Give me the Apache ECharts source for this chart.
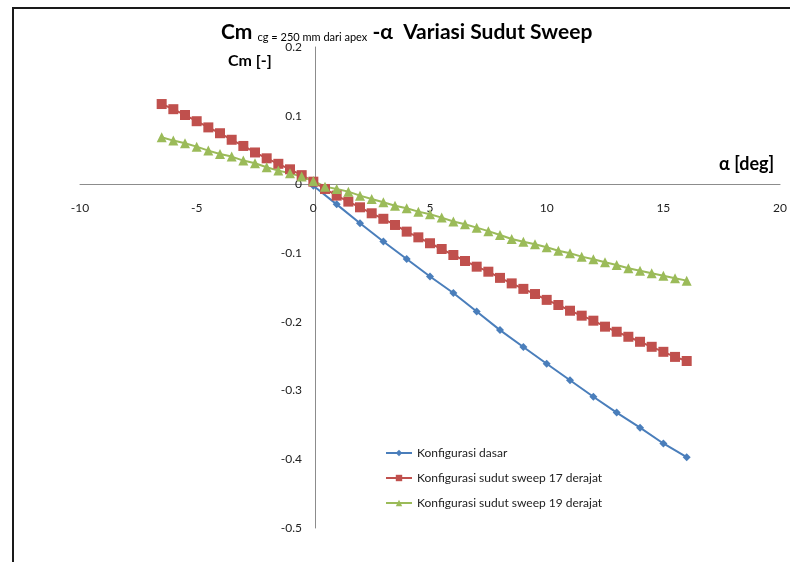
<!DOCTYPE html>
<html><head><meta charset="utf-8">
<script src="https://cdn.jsdelivr.net/npm/echarts@6/dist/echarts.min.js"></script>
<style>html,body{margin:0;padding:0;background:#fff}#c{width:790px;height:562px}</style>
</head><body><div id="c"></div>
<script>
const xTicks = [-10, -5, 0, 5, 10, 15, 20];
const yTicks = [0.2, 0.1, 0, -0.1, -0.2, -0.3, -0.4, -0.5];

const alphaDasar = [0,1,2,3,4,5,6,7,8,9,10,11,12,13,14,15,16];
const cmDasar = [-0.002,-0.029,-0.0565,-0.083,-0.1085,-0.134,-0.158,-0.185,-0.212,-0.2366,-0.261,-0.285,-0.309,-0.332,-0.354,-0.377,-0.397];

const alphaSweep = [-6.5,-6,-5.5,-5,-4.5,-4,-3.5,-3,-2.5,-2,-1.5,-1,-0.5,0,0.5,1,1.5,2,2.5,3,3.5,4,4.5,5,5.5,6,6.5,7,7.5,8,8.5,9,9.5,10,10.5,11,11.5,12,12.5,13,13.5,14,14.5,15,15.5,16];
const cmSweep17 = [0.117,0.1095,0.101,0.092,0.083,0.0745,0.065,0.056,0.0465,0.038,0.030,0.022,0.0135,0.004,-0.0066,-0.0163,-0.025,-0.0333,-0.042,-0.050,-0.059,-0.0687,-0.077,-0.0856,-0.094,-0.1027,-0.1114,-0.1197,-0.127,-0.136,-0.144,-0.152,-0.1595,-0.168,-0.1755,-0.1838,-0.191,-0.1983,-0.207,-0.2144,-0.2217,-0.229,-0.2363,-0.2436,-0.251,-0.257];
const cmSweep19 = [0.0687,0.0638,0.060,0.055,0.0492,0.0444,0.0405,0.0347,0.0309,0.025,0.0201,0.0163,0.0114,0.005,-0.0032,-0.0066,-0.0105,-0.0163,-0.0211,-0.026,-0.031,-0.0347,-0.0396,-0.0434,-0.0483,-0.054,-0.058,-0.0629,-0.068,-0.0735,-0.0794,-0.0833,-0.0871,-0.0915,-0.0964,-0.1002,-0.1051,-0.109,-0.1133,-0.1172,-0.1221,-0.1255,-0.1293,-0.1328,-0.1366,-0.140];

const seriesNames = ['Konfigurasi dasar','Konfigurasi sudut sweep 17 derajat','Konfigurasi sudut sweep 19 derajat'];

const zip = (a, b) => a.map((v, i) => [v, b[i]]);
const FONT = 'Lato, "Open Sans", sans-serif';

const GRID = {left: 80, top: 47, width: 705, height: 481};
const xMin = xTicks[0], xMax = xTicks[xTicks.length - 1];
const yMin = yTicks[yTicks.length - 1], yMax = yTicks[0];
// shift axes so they sit on the zero lines (value -> pixel through the grid extent)
const xAxisOffset = -GRID.height * (0 - yMin) / (yMax - yMin);
const yAxisOffset = -GRID.width * (0 - xMin) / (xMax - xMin);

const chart = echarts.init(document.getElementById('c'), null, {renderer: 'canvas'});
chart.setOption({
  animation: false,
  backgroundColor: '#fff',
  title: {
    left: 216, top: 17,
    text: '{a|Cm }{b|cg = 250 mm dari apex}{a| -α  Variasi Sudut Sweep}',
    textStyle: {
      rich: {
        a: {fontFamily: FONT, fontWeight: 'bold', fontSize: 21, color: '#000'},
        b: {fontFamily: FONT, fontWeight: 'normal', fontSize: 11, color: '#000', padding: [10, 0, 0, 0]}
      }
    }
  },
  graphic: [
    {type: 'rect', shape: {x: 13, y: 8, width: 800, height: 600}, style: {fill: 'none', stroke: '#1a1a1a', lineWidth: 2}, silent: true},
    {type: 'text', left: 228, top: 53, style: {text: 'Cm [-]', font: 'bold 16px ' + FONT, fill: '#000'}},
    {type: 'text', left: 719, top: 155, style: {text: 'α [deg]', font: 'bold 18px ' + FONT, fill: '#000'}}
  ],
  legend: {
    orient: 'vertical', left: 380, top: 442,
    itemWidth: 26, itemHeight: 8, itemGap: 13,
    textStyle: {fontFamily: FONT, fontSize: 12, color: '#222'},
    data: seriesNames
  },
  grid: Object.assign({containLabel: false}, GRID),
  xAxis: {
    type: 'value', min: xMin, max: xMax, interval: 5,
    offset: xAxisOffset,
    axisLine: {onZero: false, lineStyle: {color: '#8c8c8c', width: 1}},
    axisTick: {show: false},
    splitLine: {show: false},
    axisLabel: {margin: 18, fontFamily: FONT, fontSize: 12, color: '#222'}
  },
  yAxis: {
    type: 'value', min: yMin, max: yMax, interval: 0.1,
    offset: yAxisOffset,
    axisLine: {onZero: false, lineStyle: {color: '#8c8c8c', width: 1}},
    axisTick: {show: false},
    splitLine: {show: false},
    axisLabel: {margin: 13, fontFamily: FONT, fontSize: 12, color: '#222',
      formatter: v => (Math.abs(v) < 1e-9 ? '0' : String(Math.round(v * 10) / 10))}
  },
  series: [
    {name: seriesNames[0], type: 'line', data: zip(alphaDasar, cmDasar),
     symbol: 'diamond', symbolSize: 8, color: '#4A7EBB',
     lineStyle: {width: 2, color: '#4A7EBB'}, itemStyle: {color: '#4A7EBB'}},
    {name: seriesNames[1], type: 'line', data: zip(alphaSweep, cmSweep17),
     symbol: 'rect', symbolSize: 10, color: '#C0504D',
     lineStyle: {width: 2, color: '#C0504D'}, itemStyle: {color: '#C0504D'}},
    {name: seriesNames[2], type: 'line', data: zip(alphaSweep, cmSweep19),
     symbol: 'triangle', symbolSize: 10, color: '#9BBB59',
     lineStyle: {width: 2, color: '#9BBB59'}, itemStyle: {color: '#9BBB59'}}
  ]
});
</script>
</body></html>
